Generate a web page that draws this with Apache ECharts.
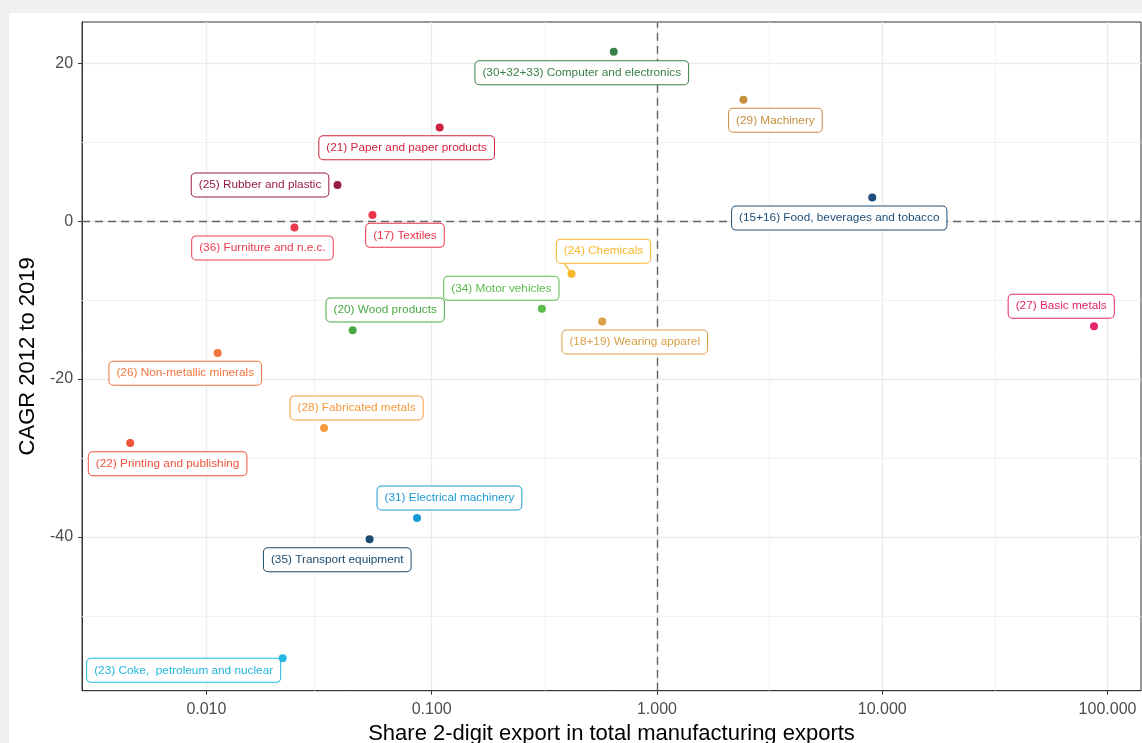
<!DOCTYPE html>
<html>
<head>
<meta charset="utf-8">
<script src="https://cdn.jsdelivr.net/npm/echarts@6/dist/echarts.min.js"></script>
<style>
  html, body { margin: 0; padding: 0; background: #f0f0f0; overflow: hidden; }
  #chart { position: absolute; left: 9px; top: 13px; width: 1133px; height: 760px; background: #fff; }
</style>
</head>
<body>
<div id="chart"></div>
<script>
// sectors (ISIC rev.3 2-digit)
var sectors = [
    '(30+32+33) Computer and electronics',
    '(29) Machinery',
    '(15+16) Food, beverages and tobacco',
    '(21) Paper and paper products',
    '(25) Rubber and plastic',
    '(17) Textiles',
    '(36) Furniture and n.e.c.',
    '(24) Chemicals',
    '(34) Motor vehicles',
    '(20) Wood products',
    '(18+19) Wearing apparel',
    '(27) Basic metals',
    '(26) Non-metallic minerals',
    '(28) Fabricated metals',
    '(22) Printing and publishing',
    '(31) Electrical machinery',
    '(35) Transport equipment',
    '(23) Coke,  petroleum and nuclear'
];
// share of 2-digit export in total manufacturing exports (log scale)
var exportShare = [0.643, 2.42, 9.03, 0.1085, 0.0382, 0.0546, 0.0246, 0.4175, 0.3084,
    0.0446, 0.5714, 87.1, 0.01122, 0.0333, 0.00459, 0.0861, 0.0530, 0.0218];
// CAGR 2012 to 2019
var cagr = [21.5, 15.4, 3.0, 11.9, 4.6, 0.8, -0.8, -6.65, -11.1,
    -13.8, -12.7, -13.3, -16.7, -26.2, -28.1, -37.6, -40.3, -55.4];

var sectorColors = ['#3b8048', '#c58f3d', '#1e4e79', '#d0223e', '#9a1b48', '#ed3447',
    '#ea3a50', '#f8b62b', '#5bbb4b', '#4ba845', '#d9a047', '#e8246e', '#f2753c',
    '#f59a3c', '#f0533c', '#1a9ad6', '#1b4a6e', '#22b8e0'];

// repel-style label offsets (px, label centre relative to point)
var labelOffsets = [[-32, 21], [32, 20.5], [-33, 20.5], [-33, 20.3], [-77.5, 0], [32.5, 20.4],
    [-32, 20.3], [32, -22.6], [-40.5, -20.5], [32.5, -20.2], [32.5, 20.5], [-32.8, -20],
    [-32.4, 20.2], [32.5, -20.1], [37.4, 20.8], [32.4, -20], [-32.3, 20.5], [-99, 12]];

var xTicks = [0.01, 0.1, 1, 10, 100];
var xMinor = [0.00316, 0.0316, 0.316, 3.16, 31.6];
var yTicks = [-40, -20, 0, 20];
var yMinor = [-50, -30, -10, 10];

var font = "'Liberation Sans', Arial, sans-serif";

var points = sectors.map(function (s, i) {
    return {
        name: s,
        value: [exportShare[i], cagr[i]],
        itemStyle: {color: sectorColors[i], opacity: 1},
        label: {
            color: sectorColors[i],
            borderColor: sectorColors[i]
        },
        labelLine: {show: i === 7, lineStyle: {color: sectorColors[i], width: 1.3, opacity: 1}}
    };
});

var minorLines = [];
xMinor.forEach(function (v) { minorLines.push({xAxis: v}); });
yMinor.forEach(function (v) { minorLines.push({yAxis: v}); });

var refLineStyle = {color: '#666', width: 1.4, type: [8, 5]};

var option = {
    animation: false,
    textStyle: {fontFamily: font},
    grid: {
        left: 72, top: 9, width: 1060, height: 668.7,
        show: true, borderColor: '#333', borderWidth: 1, backgroundColor: '#fff'
    },
    xAxis: {
        type: 'log',
        logBase: 10,
        min: 0.002805,
        max: 140.8,
        name: 'Share 2-digit export in total manufacturing exports',
        nameLocation: 'middle',
        nameGap: 32,
        nameTextStyle: {color: '#000', fontSize: 22, fontFamily: font},
        axisLine: {show: true, onZero: false, lineStyle: {color: '#333', width: 1}},
        axisTick: {show: true, length: 4, lineStyle: {color: '#333'}, customValues: xTicks},
        axisLabel: {
            color: '#4d4d4d', fontSize: 16, margin: 11, customValues: xTicks,
            formatter: function (v) { return v.toFixed(3); }
        },
        splitLine: {show: true, lineStyle: {color: '#ebebeb', width: 1.4}}
    },
    yAxis: {
        type: 'value',
        min: -59.5,
        max: 25.26,
        name: 'CAGR 2012 to 2019',
        nameLocation: 'middle',
        nameGap: 43,
        nameTextStyle: {color: '#000', fontSize: 22, fontFamily: font},
        axisLine: {show: true, onZero: false, lineStyle: {color: '#333', width: 1}},
        axisTick: {show: true, length: 4, lineStyle: {color: '#333'}, customValues: yTicks},
        axisLabel: {color: '#4d4d4d', fontSize: 16, margin: 9, customValues: yTicks},
        splitLine: {show: true, lineStyle: {color: '#ebebeb', width: 1.4}}
    },
    series: [
        {
            // minor grid
            type: 'line',
            data: [],
            silent: true,
            z: 0,
            markLine: {
                silent: true,
                symbol: 'none',
                label: {show: false},
                lineStyle: {color: '#f1f1f1', width: 1, type: 'solid'},
                data: minorLines
            }
        },
        {
            // reference lines at share = 1 and growth = 0
            type: 'line',
            data: [],
            silent: true,
            z: 1,
            markLine: {
                silent: true,
                symbol: 'none',
                label: {show: false},
                lineStyle: refLineStyle,
                data: [{xAxis: 1}, {yAxis: 0}]
            }
        },
        {
            type: 'scatter',
            symbolSize: 8,
            z: 5,
            data: points,
            label: {
                show: true,
                position: 'inside',
                formatter: '{b}',
                fontSize: 11.8,
                fontFamily: font,
                opacity: 1,
                backgroundColor: '#fff',
                borderWidth: 1,
                borderRadius: 4,
                padding: [6, 7, 5, 7]
            },
            labelLayout: function (p) {
                var o = labelOffsets[p.dataIndex];
                return {dx: o[0], dy: o[1]};
            }
        }
    ]
};

var myChart = echarts.init(document.getElementById('chart'));
myChart.setOption(option, true);
</script>
</body>
</html>
